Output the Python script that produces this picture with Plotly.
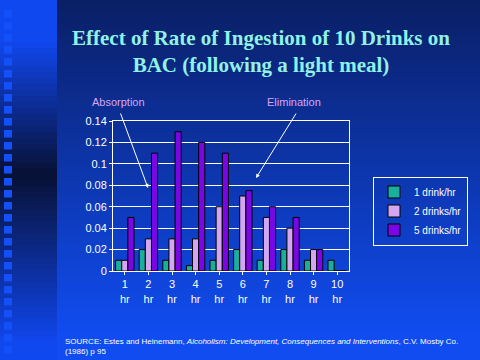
import plotly.graph_objects as go

# ---- data ----
hours = ["1<br>hr", "2<br>hr", "3<br>hr", "4<br>hr", "5<br>hr",
         "6<br>hr", "7<br>hr", "8<br>hr", "9<br>hr", "10<br>hr"]
one_drink = [0.01, 0.02, 0.01, 0.005, 0.01, 0.02, 0.01, 0.02, 0.01, 0.01]
two_drinks = [0.01, 0.03, 0.03, 0.03, 0.06, 0.07, 0.05, 0.04, 0.02, 0.0]
five_drinks = [0.05, 0.11, 0.13, 0.12, 0.11, 0.075, 0.06, 0.05, 0.02, 0.0]
series_names = ["1 drink/hr", "2 drinks/hr", "5 drinks/hr"]
y_ticks = [0, 0.02, 0.04, 0.06, 0.08, 0.1, 0.12, 0.14]
y_tick_text = ["0", "0.02", "0.04", "0.06", "0.08", "0.1", "0.12", "0.14"]

W, H = 480, 360
ML, MR, MT, MB = 113, 131, 121, 89
PW, PH = W - ML - MR, H - MT - MB


def px(x):
    return (x - ML) / PW


def py(y):
    return (H - MB - y) / PH


def lerp(c1, c2, t):
    return "rgb(%d,%d,%d)" % tuple(round(a + (b - a) * t) for a, b in zip(c1, c2))


shapes = []
# main background gradient
top_c, bot_c = (10, 31, 102), (16, 76, 240)
n = 60
for i in range(n):
    y0 = H * i / n
    y1 = H * (i + 1) / n + 0.5
    t = min(1.0, (y0 / 330.0))
    shapes.append(dict(type="rect", xref="paper", yref="paper", layer="below",
                       x0=px(57), x1=px(W + 2), y0=py(y1), y1=py(y0),
                       fillcolor=lerp(top_c, bot_c, t), line=dict(width=0)))
# left strip gradient (bright at ends, dark in middle)
bright, dark = (16, 72, 240), (8, 16, 52)
for i in range(n):
    y0 = H * i / n
    y1 = H * (i + 1) / n + 0.5
    yc = (y0 + y1) / 2
    if yc < 175:
        t = max(0.0, (yc - 40) / 135)
    else:
        t = max(0.0, 1 - (yc - 175) / 170)
    shapes.append(dict(type="rect", xref="paper", yref="paper", layer="below",
                       x0=px(-2), x1=px(57), y0=py(y1), y1=py(y0),
                       fillcolor=lerp(bright, dark, t), line=dict(width=0)))
# squares column
yy = 10
while yy < 352:
    shapes.append(dict(type="rect", xref="paper", yref="paper", layer="below",
                       x0=px(4), x1=px(12), y0=py(yy + 7.5), y1=py(yy),
                       fillcolor="rgb(20,80,250)", line=dict(width=0)))
    yy += 12

colors = ["#1aae9c", "#d4a6f2", "#7a06e6"]
fig = go.Figure()
for name, vals, col in zip(series_names, [one_drink, two_drinks, five_drinks], colors):
    fig.add_trace(go.Bar(x=hours, y=vals, name=name,
                         marker=dict(color=col, line=dict(color="black", width=1))))

annotations = [
    dict(text="<b>Effect of Rate of Ingestion of 10 Drinks on<br>BAC (following a light meal)</b>",
         xref="paper", yref="paper", x=px(261), y=py(51), xanchor="center", yanchor="middle",
         showarrow=False,
         font=dict(family="Liberation Serif, Times New Roman, serif", size=21, color="#90f2e6")),
    dict(text="Absorption", xref="paper", yref="paper", x=px(90), y=py(102),
         xanchor="left", yanchor="middle", showarrow=False,
         font=dict(family="Liberation Sans, Arial, sans-serif", size=11, color="#d8a4f4")),
    dict(text="Elimination", xref="paper", yref="paper", x=px(265), y=py(102),
         xanchor="left", yanchor="middle", showarrow=False,
         font=dict(family="Liberation Sans, Arial, sans-serif", size=11, color="#d8a4f4")),
    dict(text="", xref="paper", yref="paper", x=px(148), y=py(188), ax=-28, ay=-76,
         showarrow=True, arrowcolor="white", arrowwidth=1, arrowhead=2, arrowsize=0.8),
    dict(text="", xref="paper", yref="paper", x=px(256), y=py(178), ax=41, ay=-66,
         showarrow=True, arrowcolor="white", arrowwidth=1, arrowhead=2, arrowsize=0.8),
    dict(text="SOURCE: Estes and Heinemann, <i>Alcoholism: Development, Consequences and Interventions</i>, C.V. Mosby Co.<br>(1986) p 95",
         xref="paper", yref="paper", x=px(63), y=py(346), xanchor="left", yanchor="middle",
         align="left", showarrow=False,
         font=dict(family="Liberation Sans, Arial, sans-serif", size=8, color="white")),
]

fig.update_layout(
    width=W, height=H,
    margin=dict(l=ML, r=MR, t=MT, b=MB, pad=0),
    paper_bgcolor="rgb(13,50,170)",
    plot_bgcolor="rgba(0,0,0,0)",
    barmode="group", bargap=0.22, bargroupgap=0.0,
    shapes=shapes,
    annotations=annotations,
    font=dict(family="Liberation Sans, Arial, sans-serif", size=11, color="white"),
    showlegend=True,
    legend=dict(x=px(373), y=py(211), xanchor="left", yanchor="middle",
                bgcolor="rgba(0,0,0,0)", bordercolor="white", borderwidth=1,
                font=dict(size=10, color="white"), itemwidth=30,
                tracegroupgap=0),
    xaxis=dict(showgrid=False, showline=True, linecolor="white", linewidth=1,
               mirror=True, ticks="outside", ticklen=3, tickcolor="white",
               tickfont=dict(size=11, color="white")),
    yaxis=dict(range=[0, 0.14], tickvals=y_ticks, ticktext=y_tick_text,
               showgrid=True, gridcolor="white", gridwidth=1,
               showline=True, linecolor="white", linewidth=1, mirror=True,
               ticks="outside", ticklen=3, tickcolor="white", zeroline=False,
               tickfont=dict(size=11, color="white")),
)

fig.write_html("out.html", config={"displayModeBar": False},
               post_script="document.body.style.margin='0';document.body.style.overflow='hidden';")
